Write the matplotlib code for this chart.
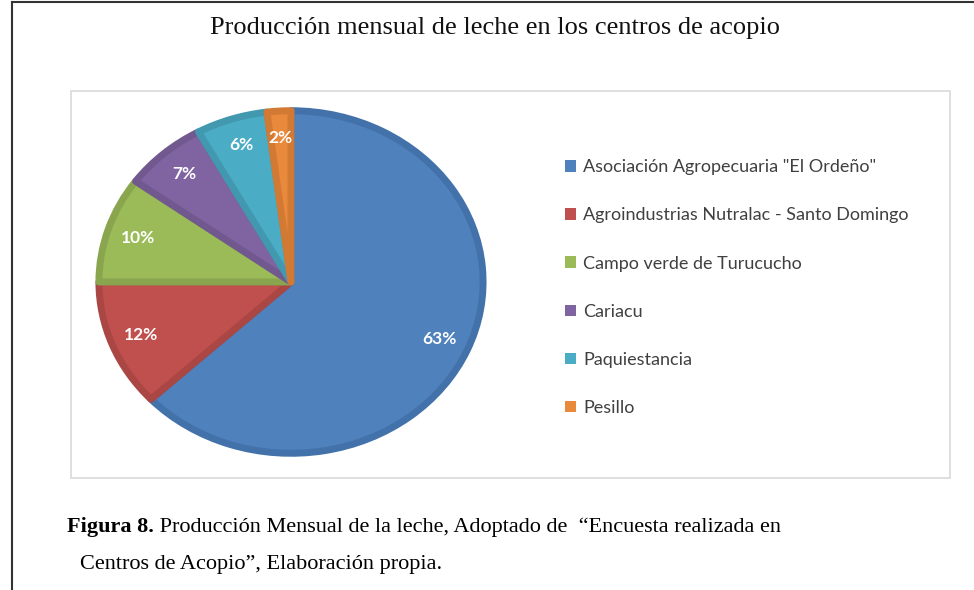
import matplotlib.pyplot as plt
from matplotlib.patches import Rectangle, Patch
from matplotlib.lines import Line2D

W, H = 974, 590

centros = ['Asociación Agropecuaria "El Ordeño"',
           'Agroindustrias Nutralac - Santo Domingo',
           'Campo verde de Turucucho',
           'Cariacu',
           'Paquiestancia',
           'Pesillo']
porcentajes = [63, 12, 10, 7, 6, 2]
colores = ['#4F81BD', '#C0504D', '#9BBB59', '#8064A2', '#4BACC6', '#E8893C']
bordes = ['#4372AB', '#AA4643', '#89A54E', '#71588F', '#4198AF', '#D27A33']

titulo = 'Producción mensual de leche en los centros de acopio'
pie_negrita = 'Figura 8.'
pie_linea1 = ' Producción Mensual de la leche, Adoptado de  “Encuesta realizada en'
pie_linea2 = 'Centros de Acopio”, Elaboración propia.'

fig = plt.figure(figsize=(W / 100, H / 100), dpi=100)


def fx(px):
    return px / W


def fy(py):
    return 1 - py / H


# page frame (top and left edges only)
fig.add_artist(Line2D([fx(12), 1], [fy(1.5), fy(1.5)], color='#333333', lw=1.5))
fig.add_artist(Line2D([fx(12), fx(12)], [0, fy(1.5)], color='#333333', lw=1.5))

# chart area box
fig.add_artist(Rectangle((fx(71), fy(478)), fx(950) - fx(71), fy(91) - fy(478),
                         transform=fig.transFigure, fill=False,
                         edgecolor='#d9d9d9', lw=1.2))

fig.text(fx(495), fy(28), titulo, ha='center', va='center',
         family='Liberation Serif', fontsize=19, color='#111111')

# pie (slightly squashed like the original)
cx, cy, rx, ry = 291, 282, 194, 173
ax = fig.add_axes([fx(cx - rx), fy(cy + ry), (2 * rx) / W, (2 * ry) / H])
wedges, _, autotexts = ax.pie(porcentajes, colors=colores, startangle=90,
                              counterclock=False, autopct='%d%%',
                              pctdistance=0.84,
                              wedgeprops=dict(linewidth=5, joinstyle='round'),
                              textprops=dict(color='white', fontweight='bold',
                                             family='Lato', fontsize=12.5))
for w, b in zip(wedges, bordes):
    w.set_edgecolor(b)
ax.set_aspect('auto')
ax.set_xlim(-1.01, 1.01)
ax.set_ylim(-1.01, 1.01)
ax.axis('off')

handles = [Patch(facecolor=c, edgecolor='none') for c in colores]
fig.legend(handles, centros, loc='upper left',
           bbox_to_anchor=(fx(549), fy(143)), frameon=False,
           prop=dict(family='Lato', size=13), labelcolor='#404040',
           handlelength=0.6, handleheight=0.6, handletextpad=0.4,
           labelspacing=1.78)

# caption with bold prefix
t1 = fig.text(fx(67), fy(527), pie_negrita, ha='left', va='center',
              family='Liberation Serif', fontsize=16, fontweight='bold')
fig.canvas.draw()
bb = t1.get_window_extent(fig.canvas.get_renderer())
fig.text(bb.x1 / W, fy(527), pie_linea1, ha='left', va='center',
         family='Liberation Serif', fontsize=16)
fig.text(fx(80), fy(565), pie_linea2, ha='left', va='center',
         family='Liberation Serif', fontsize=16)

plt.savefig('out.png', dpi=100)
